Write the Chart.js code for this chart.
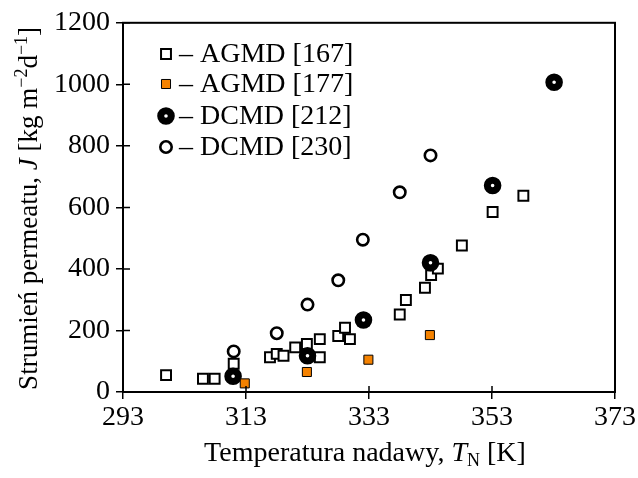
<!DOCTYPE html>
<html>
<head>
<meta charset="utf-8">
<title>Strumień permeatu</title>
<script src="https://cdn.jsdelivr.net/npm/chart.js@4.4.1/dist/chart.umd.min.js"></script>
<style>
  body { margin: 0; background: #fff; }
  #wrap { width: 638px; height: 478px; }
</style>
</head>
<body>
<div id="wrap"><canvas id="chart"></canvas></div>
<script>
// axis ticks
const xTicks = [293, 313, 333, 353, 373];
const yTicks = [0, 200, 400, 600, 800, 1000, 1200];

// AGMD [167] - open squares (T [K], J)
const agmd167T = [300.0, 306.0, 307.9, 311.0, 316.9, 318.0, 319.1, 321.0, 322.9, 325.0, 325.0, 328.0, 329.1, 329.9, 332.1, 338.0, 339.0, 342.1, 343.1, 344.2, 348.1, 353.1, 358.1];
const agmd167J = [55, 43, 43, 92, 113, 124, 118, 145, 156, 172, 113, 182, 209, 172, 232, 252, 299, 339, 380, 401, 476, 585, 638];

// AGMD [177] - orange squares
const agmd177T = [312.8, 322.9, 332.9, 342.9];
const agmd177J = [28, 65, 105, 185];

// DCMD [212] - thick black rings
const dcmd212T = [310.9, 323.0, 332.1, 343.0, 353.1, 363.1];
const dcmd212J = [51, 118, 234, 420, 671, 1007];

// DCMD [230] - open circles
const dcmd230T = [311.0, 318.0, 323.0, 328.0, 332.0, 338.0, 343.0];
const dcmd230J = [132, 191, 284, 363, 495, 649, 769];

const FONT = "'Liberation Serif', 'Times New Roman', serif";
const toPoints = (xs, ys) => xs.map((x, i) => ({ x: x, y: ys[i] }));

// draw a row of text pieces (text, size, style, dy), centred on x
function drawRuns(ctx, runs, x, y) {
    let total = 0;
    runs.forEach(r => {
        ctx.font = `${r[2] || ''} ${r[1]}px ${FONT}`;
        total += ctx.measureText(r[0]).width;
    });
    let cx = x - total / 2;
    runs.forEach(r => {
        ctx.font = `${r[2] || ''} ${r[1]}px ${FONT}`;
        ctx.fillText(r[0], cx, y + (r[3] || 0));
        cx += ctx.measureText(r[0]).width;
    });
}

function drawMarker(ctx, ds, x, y) {
    ctx.save();
    ctx.lineWidth = ds.borderWidth;
    ctx.strokeStyle = ds.borderColor;
    ctx.fillStyle = ds.backgroundColor;
    ctx.beginPath();
    if (ds.pointStyle === 'rect') {
        const s = ds.pointRadius * Math.SQRT1_2;
        ctx.rect(x - s, y - s, 2 * s, 2 * s);
    } else {
        ctx.arc(x, y, ds.pointRadius, 0, 2 * Math.PI);
    }
    ctx.fill();
    ctx.stroke();
    ctx.restore();
}

const framePlugin = {
    id: 'frame',
    afterDraw(chart) {
        const { ctx, chartArea: a, scales } = chart;
        ctx.save();
        ctx.strokeStyle = '#000';
        ctx.fillStyle = '#000';

        // box
        ctx.lineWidth = 2;
        ctx.strokeRect(a.left, a.top, a.right - a.left, a.bottom - a.top);

        // inner half of the ticks
        ctx.lineWidth = 1.5;
        ctx.beginPath();
        scales.x.ticks.forEach(t => {
            const px = scales.x.getPixelForValue(t.value);
            ctx.moveTo(px, a.bottom);
            ctx.lineTo(px, a.bottom - 6);
        });
        scales.y.ticks.forEach(t => {
            const py = scales.y.getPixelForValue(t.value);
            ctx.moveTo(a.left, py);
            ctx.lineTo(a.left + 7, py);
        });
        ctx.stroke();

        // axis titles
        ctx.textBaseline = 'alphabetic';
        drawRuns(ctx, [
            ['Temperatura nadawy, ', 28],
            ['T', 28, 'italic'],
            ['N', 18, '', 5],
            [' [K]', 28]
        ], (a.left + a.right) / 2 - 4, 461);

        ctx.save();
        ctx.translate(37, (a.top + a.bottom) / 2 + 1);
        ctx.rotate(-Math.PI / 2);
        drawRuns(ctx, [
            ['Strumień permeatu, ', 27],
            ['J', 27, 'italic'],
            [' [kg m', 27],
            ['\u22122', 18, '', -10],
            ['d', 27],
            ['\u22121', 18, '', -10],
            [']', 27]
        ], 0, 0);
        ctx.restore();

        // legend
        const rows = [54, 84, 116, 147];
        chart.data.datasets.forEach((ds, i) => {
            drawMarker(ctx, ds, 166, rows[i]);
            ctx.font = `28px ${FONT}`;
            ctx.textAlign = 'left';
            ctx.fillText('\u2013 ' + ds.label, 179, rows[i] + 8);
        });
        ctx.restore();
    }
};

new Chart(document.getElementById('chart'), {
    type: 'scatter',
    data: {
        datasets: [
            {
                label: 'AGMD [167]',
                data: toPoints(agmd167T, agmd167J),
                pointStyle: 'rect', pointRadius: 7, borderWidth: 2,
                borderColor: '#000', backgroundColor: '#fff', order: 2
            },
            {
                label: 'AGMD [177]',
                data: toPoints(agmd177T, agmd177J),
                pointStyle: 'rect', pointRadius: 6.4, borderWidth: 1,
                borderColor: '#000', backgroundColor: '#f58200', order: 0
            },
            {
                label: 'DCMD [212]',
                data: toPoints(dcmd212T, dcmd212J),
                pointStyle: 'circle', pointRadius: 5.3, borderWidth: 7,
                borderColor: '#000', backgroundColor: '#fff', order: 1
            },
            {
                label: 'DCMD [230]',
                data: toPoints(dcmd230T, dcmd230J),
                pointStyle: 'circle', pointRadius: 5.7, borderWidth: 2.6,
                borderColor: '#000', backgroundColor: '#fff', order: 3
            }
        ]
    },
    options: {
        responsive: true,
        maintainAspectRatio: false,
        animation: false,
        events: [],
        layout: { padding: { top: 17, right: 23, left: 0, bottom: 0 } },
        elements: { point: { hoverRadius: 0 } },
        plugins: { legend: { display: false }, tooltip: { enabled: false } },
        scales: {
            x: {
                type: 'linear', min: 293, max: 373,
                afterBuildTicks: s => { s.ticks = xTicks.map(v => ({ value: v })); },
                afterFit: s => { s.height = 86; },
                ticks: { color: '#000', font: { family: FONT, size: 28 }, padding: 2, maxRotation: 0, callback: v => String(v) },
                grid: { drawOnChartArea: false, color: '#000', lineWidth: 1.5, tickLength: 7 },
                border: { color: '#000', width: 2 }
            },
            y: {
                min: 0, max: 1200,
                afterBuildTicks: s => { s.ticks = yTicks.map(v => ({ value: v })); },
                afterFit: s => { s.width = 123; },
                ticks: { color: '#000', font: { family: FONT, size: 28 }, padding: 6, callback: v => String(v) },
                grid: { drawOnChartArea: false, color: '#000', lineWidth: 1.5, tickLength: 7 },
                border: { color: '#000', width: 2 }
            }
        }
    },
    plugins: [framePlugin]
});
</script>
</body>
</html>
